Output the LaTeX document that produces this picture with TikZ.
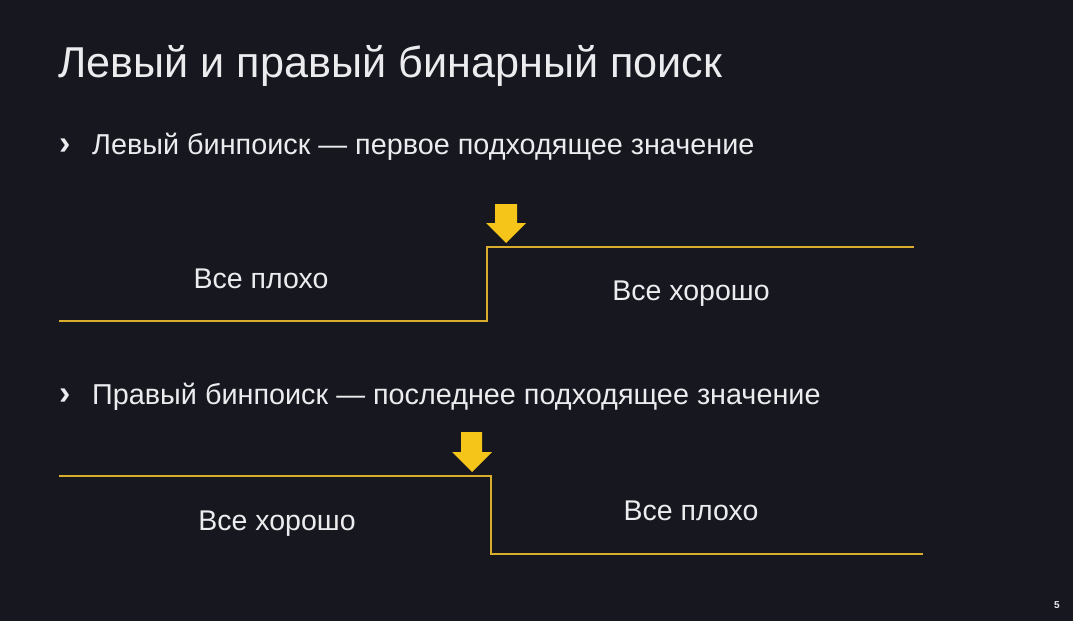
\documentclass[tikz,border=0pt]{standalone}
\usepackage{fontspec}
\setmainfont{Liberation Sans}
\definecolor{bg}{HTML}{16171F}
\definecolor{txt}{HTML}{ECECEF}
\definecolor{ln}{HTML}{D9AE2C}
\definecolor{arr}{HTML}{F6C519}
\begin{document}
\begin{tikzpicture}[x=1pt,y=-1pt,
  lbl/.style={text=txt,inner sep=0pt,anchor=base,font=\fontsize{28.5}{32}\selectfont},
  bul/.style={text=txt,inner sep=0pt,anchor=base west,font=\fontsize{28.8}{32}\selectfont},
  marker/.style={text=txt,inner sep=0pt,anchor=base west,font=\fontsize{34}{36}\selectfont\bfseries},
  stepline/.style={draw=ln,line width=2.8pt},
  bigarrow/.style={fill=arr}]
\fill[bg] (0,0) rectangle (1073,621);
\useasboundingbox (0,0) rectangle (1073,621);
\node[text=txt,inner sep=0pt,anchor=base west,font=\fontsize{43.2}{48}\selectfont] (title) at (58,77) {Левый и правый бинарный поиск};
\node[marker] (b1m) at (59,154) {›};
\node[bul] (b1) at (92,154) {Левый бинпоиск — первое подходящее значение};
\node[marker] (b2m) at (59,404) {›};
\node[bul] (b2) at (92,404) {Правый бинпоиск — последнее подходящее значение};
% first step
\coordinate (a0) at (59,321);
\coordinate (a1) at (487,321);
\coordinate (a2) at (487,247);
\coordinate (a3) at (914,247);
\draw[stepline] (a0) -- (a1) -- (a2) -- (a3);
\fill[bigarrow] (495,204) -- (517,204) -- (517,223) -- (526,223) -- (506,243) -- (486,223) -- (495,223) -- cycle;
\node[lbl] (bad1) at (261,288) {Все плохо};
\node[lbl] (good1) at (691,300) {Все хорошо};
% second step
\coordinate (c0) at (59,476);
\coordinate (c1) at (491,476);
\coordinate (c2) at (491,554);
\coordinate (c3) at (923,554);
\draw[stepline] (c0) -- (c1) -- (c2) -- (c3);
\fill[bigarrow] (461,432) -- (482,432) -- (482,452) -- (492,452) -- (472,472) -- (452,452) -- (461,452) -- cycle;
\node[lbl] (good2) at (277,530) {Все хорошо};
\node[lbl] (bad2) at (691,520) {Все плохо};
\node[text=txt,inner sep=0pt,font=\fontsize{10}{12}\selectfont\bfseries] (pg) at (1057,605) {5};
\end{tikzpicture}
\end{document}
